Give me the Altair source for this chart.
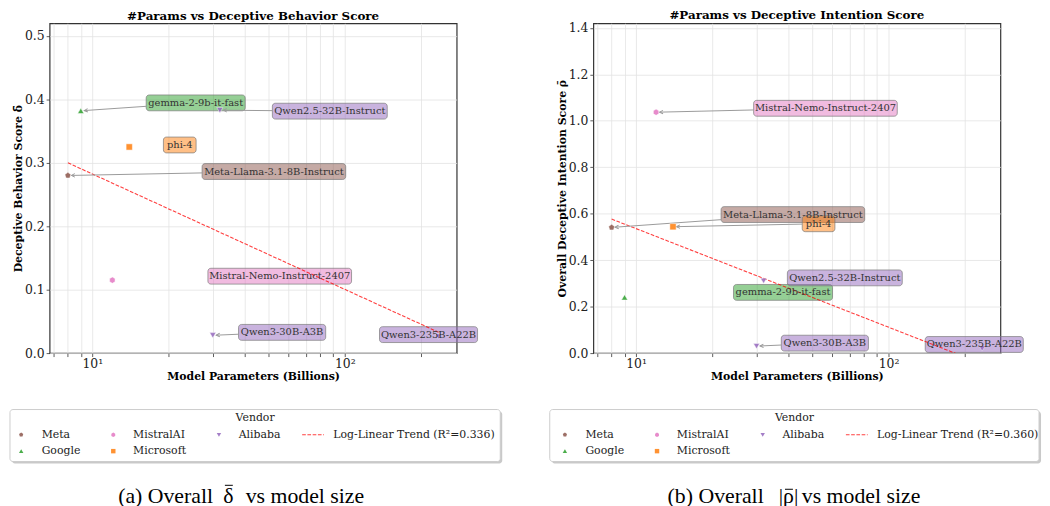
import math
import altair as alt
import pandas as pd

# ---------------- data ----------------
models = ["Meta-Llama-3.1-8B-Instruct", "gemma-2-9b-it-fast", "Mistral-Nemo-Instruct-2407",
          "phi-4", "Qwen2.5-32B-Instruct", "Qwen3-30B-A3B", "Qwen3-235B-A22B"]
vendors = ["Meta", "Google", "MistralAI", "Microsoft", "Alibaba", "Alibaba", "Alibaba"]
params_b = [8, 9, 12, 14, 32, 30, 235]
delta_score = [0.280, 0.382, 0.115, 0.325, 0.383, 0.028, 0.026]
rho_score = [0.541, 0.240, 1.037, 0.544, 0.311, 0.030, 0.020]

vendor_names = ["Meta", "Google", "MistralAI", "Microsoft", "Alibaba"]
vendor_colors = ["#8c564b", "#2ca02c", "#e377c2", "#ff7f0e", "#9467bd"]

trend_params = [8, 235]
trend_delta = [0.300, 0.033]
trend_rho = [0.577, -0.046]
trend_r2 = [0.336, 0.360]

x_ticks = [7, 8, 9, 10, 20, 30, 40, 50, 60, 70, 80, 90, 100, 200]

# ---------------- layout / style ----------------
PLOT_TOP = 19.5        # expected page y of the plot areas' top edge
W, H = 411, 333
X_DOMAIN = [6.77, 277.5]
FONT = "DejaVu Serif"
CAP_FONT = "Liberation Serif"
PENTAGON = "M0,-1L0.951,-0.309L0.588,0.809L-0.588,0.809L-0.951,-0.309Z"
HEXAGON = "M0,-1L0.866,-0.5L0.866,0.5L0,1L-0.866,0.5L-0.866,-0.5Z"
vendor_shapes = [PENTAGON, "triangle-up", HEXAGON, "square", "triangle-down"]
ARROW_HEAD = "M-1,-0.5L0,0L-1,0.5"

BOX_W = {"Meta-Llama-3.1-8B-Instruct": 145, "gemma-2-9b-it-fast": 100,
         "Mistral-Nemo-Instruct-2407": 145, "phi-4": 33, "Qwen2.5-32B-Instruct": 116,
         "Qwen3-30B-A3B": 88, "Qwen3-235B-A22B": 99}
BOX_H = 16

# label offsets (pixels, from point to label centre)
offs_a = {"Meta-Llama-3.1-8B-Instruct": (208, -4), "gemma-2-9b-it-fast": (116, -8),
          "Mistral-Nemo-Instruct-2407": (169, -4), "phi-4": (51, -2),
          "Qwen2.5-32B-Instruct": (111, 1), "Qwen3-30B-A3B": (70, -3),
          "Qwen3-235B-A22B": (-10, -2)}
arrows_a = ["Meta-Llama-3.1-8B-Instruct", "gemma-2-9b-it-fast", "Qwen2.5-32B-Instruct", "Qwen3-30B-A3B"]
offs_b = {"Meta-Llama-3.1-8B-Instruct": (183, -13), "gemma-2-9b-it-fast": (160, -5),
          "Mistral-Nemo-Instruct-2407": (171, -4), "phi-4": (147, -3),
          "Qwen2.5-32B-Instruct": (82, -3), "Qwen3-30B-A3B": (69, -3),
          "Qwen3-235B-A22B": (-8, -4)}
arrows_b = ["Meta-Llama-3.1-8B-Instruct", "Mistral-Nemo-Instruct-2407", "phi-4", "Qwen3-30B-A3B"]

color_scale = alt.Scale(domain=vendor_names, range=vendor_colors)
shape_scale = alt.Scale(domain=vendor_names, range=vendor_shapes)
ONE = pd.DataFrame({"k": [0]})


def ry(page_y):
    return page_y - PLOT_TOP


def vtext(txt, x, y, size=11, font=FONT, align="center", color="#222"):
    return alt.Chart(ONE).mark_text(text=txt, font=font, fontSize=size, color=color, align=align,
                                    baseline="middle").encode(x=alt.value(x), y=alt.value(y))


def legend_layers(bx0, bx1, r2):
    L = []
    top, bot = ry(409.5), ry(462)
    L.append(alt.Chart(ONE).mark_rect(fill="#888", opacity=0.45, cornerRadius=3).encode(
        x=alt.value(bx0 + 2), x2=alt.value(bx1 + 2), y=alt.value(top + 2), y2=alt.value(bot + 2)))
    L.append(alt.Chart(ONE).mark_rect(fill="white", stroke="#cccccc", strokeWidth=1, cornerRadius=3).encode(
        x=alt.value(bx0), x2=alt.value(bx1), y=alt.value(top), y2=alt.value(bot)))
    L.append(vtext("Vendor", (bx0 + bx1) / 2, ry(418.5)))
    cols = [(-28.7, -8), (64.3, 84.3), (171, 191)]
    rows = [ry(435), ry(451.5)]
    place = {"Meta": (0, 0), "Google": (0, 1), "MistralAI": (1, 0), "Microsoft": (1, 1), "Alibaba": (2, 0)}
    for name, col, shp in zip(vendor_names, vendor_colors, vendor_shapes):
        c, r = place[name]
        mx, tx = cols[c]
        L.append(alt.Chart(ONE).mark_point(shape=shp, filled=True, color=col, size=20, opacity=0.85).encode(
            x=alt.value(mx), y=alt.value(rows[r])))
        L.append(vtext(name, tx, rows[r], align="left"))
    L.append(alt.Chart(ONE).mark_rule(color="red", strokeDash=[3.7, 1.6], strokeWidth=1.1, opacity=0.75).encode(
        x=alt.value(255), x2=alt.value(277), y=alt.value(rows[0])))
    L.append(vtext(f"Log-Linear Trend (R\u00b2={r2:.3f})", 286.5, rows[0], align="left"))
    return L


def caption_layers(left_txt, sym_txt, right_txt, left_end, sym_x, right_start, bar_y):
    L = []
    y = ry(496.5)
    fs = 22
    L.append(vtext(left_txt, left_end, y, size=fs, font=CAP_FONT, align="right", color="black"))
    L.append(vtext(sym_txt, sym_x, y, size=fs, font=CAP_FONT, align="center", color="black"))
    L.append(vtext(right_txt, right_start, y, size=fs, font=CAP_FONT, align="left", color="black"))
    L.append(alt.Chart(ONE).mark_rule(color="black", strokeWidth=1).encode(
        x=alt.value(sym_x - 3.5), x2=alt.value(sym_x + 4.5), y=alt.value(ry(bar_y))))
    return L


def panel(score, y_max, y_ticks, title_txt, y_title, offs, arrows_on, trend_y, r2, caption, bx0, bx1):
    lx0, lx1 = math.log10(X_DOMAIN[0]), math.log10(X_DOMAIN[1])

    def px_x(v):
        return (math.log10(v) - lx0) / (lx1 - lx0) * W

    def dat_x(p):
        return 10 ** (lx0 + p / W * (lx1 - lx0))

    def px_y(v):
        return H - v / y_max * H

    def dat_y(p):
        return (H - p) / H * y_max

    pts = pd.DataFrame({"model": models, "vendor": vendors, "params": params_b, "score": score})
    boxes, arrows = [], []
    for m, v, p, s in zip(models, vendors, params_b, score):
        ox, oy = offs[m]
        w = BOX_W[m]
        px, py = px_x(p), px_y(s)
        cx, cy = px + ox, py + oy
        boxes.append(dict(model=m, vendor=v, bx1=dat_x(cx - w / 2), bx2=dat_x(cx + w / 2),
                          by1=dat_y(cy - BOX_H / 2), by2=dat_y(cy + BOX_H / 2), tx=dat_x(cx), ty=dat_y(cy)))
        if m in arrows_on:
            ddx, ddy = px - cx, py - cy
            Ln = math.hypot(ddx, ddy)
            t = min((w / 2) / abs(ddx) if ddx else 1e9, (BOX_H / 2) / abs(ddy) if ddy else 1e9)
            sx, sy = cx + t * ddx, cy + t * ddy
            ex, ey = px - 3.5 * ddx / Ln, py - 3.5 * ddy / Ln
            ang = math.degrees(math.atan2(ddy, ddx)) % 360
            arrows.append(dict(ax1=dat_x(sx), ay1=dat_y(sy), ax2=dat_x(ex), ay2=dat_y(ey), ang=ang))
    boxes = pd.DataFrame(boxes)
    arrows = pd.DataFrame(arrows)
    trend = pd.DataFrame({"params": trend_params, "y": trend_y})

    xs = alt.Scale(type="log", domain=X_DOMAIN, nice=False)
    ys = alt.Scale(domain=[0, y_max], nice=False, zero=False)

    x_axis = alt.Axis(values=x_ticks, title="Model Parameters (Billions)",
                      labelExpr="datum.value == 10 ? '10\u00b9' : (datum.value == 100 ? '10\u00b2' : '')",
                      labelOverlap=False, labelFlush=False, tickSize=3.5, labelPadding=1, titlePadding=1)
    y_axis = alt.Axis(values=y_ticks, format=".1f", title=y_title, tickSize=3.5, labelPadding=2,
                      titlePadding=1, labelFlush=False)

    def X(f):
        return alt.X(f, scale=xs, axis=x_axis, title="Model Parameters (Billions)")

    def Y(f):
        return alt.Y(f, scale=ys, axis=y_axis, title=y_title)

    box_layer = alt.Chart(boxes).mark_rect(fillOpacity=0.5, stroke="#7a7a7a", strokeOpacity=0.7,
                                           strokeWidth=1, cornerRadius=3).encode(
        x=X("bx1:Q"), x2="bx2:Q", y=Y("by1:Q"), y2="by2:Q",
        color=alt.Color("vendor:N", scale=color_scale, legend=None))

    trend_layer = alt.Chart(trend).mark_line(color="red", strokeDash=[3.7, 1.6], strokeWidth=1.1,
                                             opacity=0.75, clip=True).encode(
        x=X("params:Q"), y=Y("y:Q"))

    arrow_layer = alt.Chart(arrows).mark_rule(color="#9a9a9a", strokeWidth=1).encode(
        x=X("ax1:Q"), x2="ax2:Q", y=Y("ay1:Q"), y2="ay2:Q")
    head_layer = alt.Chart(arrows).mark_point(shape=ARROW_HEAD, filled=False, color="#9a9a9a",
                                              strokeWidth=1, size=49, opacity=1).encode(
        x=X("ax2:Q"), y=Y("ay2:Q"), angle=alt.Angle("ang:Q", scale=None))

    point_layer = alt.Chart(pts).mark_point(filled=True, opacity=0.85, size=40, stroke="white",
                                            strokeWidth=0.5).encode(
        x=X("params:Q"), y=Y("score:Q"),
        color=alt.Color("vendor:N", scale=color_scale, legend=None),
        shape=alt.Shape("vendor:N", scale=shape_scale, legend=None))

    text_layer = alt.Chart(boxes).mark_text(font=FONT, fontSize=10, color="#333").encode(
        x=X("tx:Q"), y=Y("ty:Q"), text="model:N")

    layers = [box_layer, trend_layer, arrow_layer, head_layer, point_layer, text_layer]
    layers += legend_layers(bx0, bx1, r2)
    layers += caption_layers(*caption)
    return alt.layer(*layers).properties(
        width=W, height=H,
        title=alt.TitleParams(title_txt, font=FONT, fontSize=12, fontWeight="bold", color="black",
                              anchor="middle", offset=0))


pa = panel(delta_score, 0.52, [0.0, 0.1, 0.2, 0.3, 0.4, 0.5], "#Params vs Deceptive Behavior Score",
           "Deceptive Behavior Score \u03b4\u0304", offs_a, arrows_a, trend_delta, trend_r2[0],
           ("(a) Overall", "\u03b4", "vs model size", 165, 180.5, 198, 486), -40, 455)
pb = panel(rho_score, 1.42, [0.0, 0.2, 0.4, 0.6, 0.8, 1.0, 1.2, 1.4], "#Params vs Deceptive Intention Score",
           "Overall Deceptive Intention Score \u03c1\u0304", offs_b, arrows_b, trend_rho, trend_r2[1],
           ("(b) Overall", "|\u03c1|", "vs model size", 172, 197, 210.5, 490), -44, 450)

chart = alt.hconcat(pa, pb, spacing=138, bounds="flush",
                    padding={"top": -2, "left": 0, "right": 0, "bottom": 0}).configure_view(
    stroke="#333", strokeWidth=1.2
).configure_axis(
    labelFont=FONT, labelFontSize=12.5, labelColor="#222", titleFont=FONT, titleFontSize=11,
    titleFontWeight="bold", titleColor="black", gridColor="#e3e3e3", gridWidth=0.8,
    tickColor="#333", tickWidth=0.8, domain=False
)

chart.save("out.html", embed_options={"renderer": "svg", "actions": False})
